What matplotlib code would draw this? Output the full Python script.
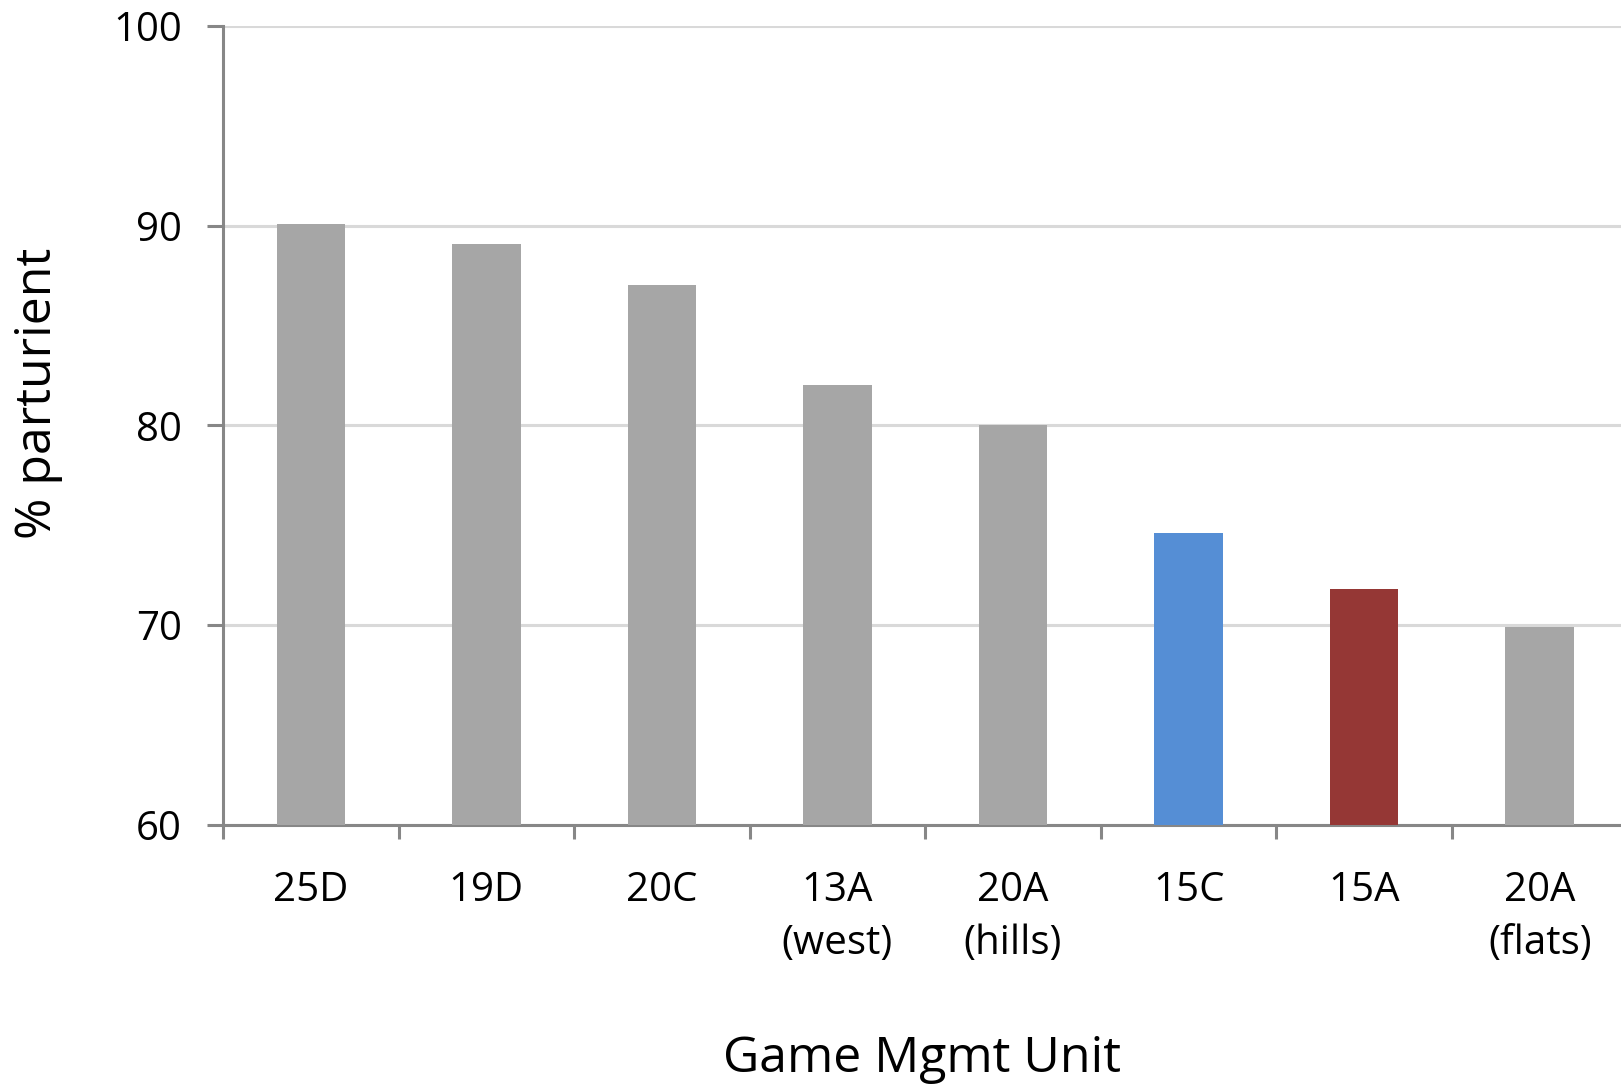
import matplotlib.pyplot as plt
import numpy as np

plt.rcParams['font.family'] = ['Open Sans', 'DejaVu Sans']

units = ['25D', '19D', '20C', '13A\n(west)', '20A\n(hills)', '15C', '15A', '20A\n(flats)']
parturient = [90.1, 89.1, 87.0, 82.0, 80.0, 74.6, 71.8, 69.9]
bar_colors = ['#A6A6A6', '#A6A6A6', '#A6A6A6', '#A6A6A6', '#A6A6A6',
              '#558ED5', '#953735', '#A6A6A6']

axis_gray = '#878787'

fig = plt.figure(figsize=(16.21, 10.85), dpi=100)
ax = fig.add_axes([0.1376, 0.2396, 0.8664, 0.7367])

x = np.arange(len(units))
ax.bar(x, np.array(parturient) - 60, bottom=60, width=0.39, color=bar_colors, zorder=3)

ax.set_xlim(-0.5, len(units) - 0.5)
ax.set_ylim(60, 100)
ax.set_yticks([60, 70, 80, 90, 100])
ax.yaxis.grid(True, color='#D9D9D9', linewidth=2.2, zorder=0)
ax.set_axisbelow(True)

# labels at centres, tick marks between categories
ax.set_xticks(x)
ax.set_xticklabels(units, linespacing=1.4)
ax.set_xticks(np.arange(-0.5, len(units), 1), minor=True)
ax.tick_params(axis='x', which='major', length=0, pad=33, labelsize=29)
ax.tick_params(axis='x', which='minor', length=10, width=2.2, color=axis_gray)
ax.tick_params(axis='y', length=11.5, width=2.2, color=axis_gray, pad=18, labelsize=29)

for side in ['top', 'right']:
    ax.spines[side].set_visible(False)
for side in ['left', 'bottom']:
    ax.spines[side].set_color(axis_gray)
    ax.spines[side].set_linewidth(2.2)

ax.set_ylabel('% parturient', fontsize=36)
ax.yaxis.set_label_coords(-0.114, 0.54)
ax.set_xlabel('Game Mgmt Unit', fontsize=36)
ax.xaxis.set_label_coords(0.498, -0.262)

fig.savefig('out.png', dpi=100)
